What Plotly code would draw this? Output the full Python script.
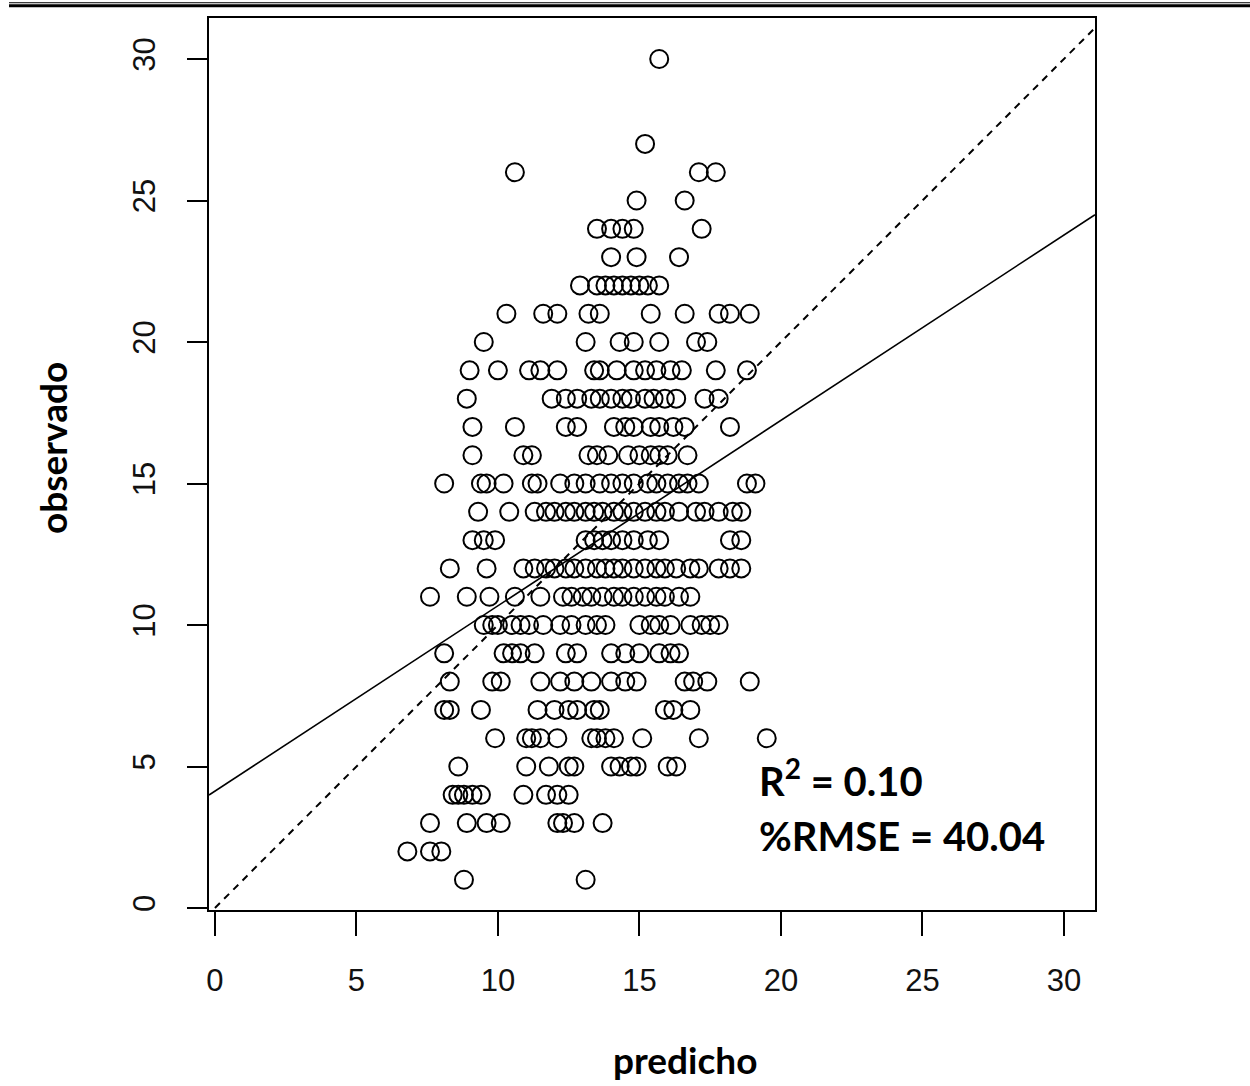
import plotly.graph_objects as go

# Predicted values grouped by the observed (integer) value
pred_by_obs = {
    30: [15.7],
    27: [15.2],
    26: [10.6, 17.1, 17.7],
    25: [14.9, 16.6],
    24: [13.5, 14.0, 14.4, 14.8, 17.2],
    23: [14.0, 14.9, 16.4],
    22: [12.9, 13.5, 13.8, 14.1, 14.4, 14.7, 15.0, 15.3, 15.7],
    21: [10.3, 11.6, 12.1, 13.2, 13.6, 15.4, 16.6, 17.8, 18.2, 18.9],
    20: [9.5, 13.1, 14.3, 14.8, 15.7, 17.0, 17.4],
    19: [9.0, 10.0, 11.1, 11.5, 12.1, 13.4, 13.6, 14.2, 14.8, 15.2, 15.6, 16.1, 16.5, 17.7, 18.8],
    18: [8.9, 11.9, 12.4, 12.8, 13.3, 13.6, 14.0, 14.4, 14.7, 15.2, 15.5, 15.9, 16.3, 17.3, 17.8],
    17: [9.1, 10.6, 12.4, 12.8, 14.1, 14.5, 14.8, 15.4, 15.7, 16.2, 16.6, 18.2],
    16: [9.1, 10.9, 11.2, 13.2, 13.5, 13.9, 14.6, 15.0, 15.4, 15.7, 16.0, 16.7],
    15: [8.1, 9.4, 9.6, 10.2, 11.2, 11.4, 12.2, 12.7, 13.1, 13.6, 14.0, 14.4, 14.8, 15.3,
         15.6, 16.0, 16.4, 16.7, 17.1, 18.8, 19.1],
    14: [9.3, 10.4, 11.3, 11.7, 12.0, 12.4, 12.7, 13.1, 13.4, 13.7, 14.1, 14.4, 14.8, 15.2,
         15.6, 15.9, 16.4, 17.0, 17.3, 17.8, 18.3, 18.6],
    13: [9.1, 9.5, 9.9, 13.1, 13.4, 13.7, 14.0, 14.4, 14.8, 15.3, 15.7, 18.2, 18.6],
    12: [8.3, 9.6, 10.9, 11.3, 11.7, 12.0, 12.4, 12.7, 13.1, 13.5, 13.8, 14.1, 14.4, 14.8,
         15.2, 15.6, 15.9, 16.3, 16.8, 17.1, 17.8, 18.2, 18.6],
    11: [7.6, 8.9, 9.7, 10.6, 11.5, 12.3, 12.6, 13.0, 13.3, 13.7, 14.1, 14.4, 14.8, 15.2,
         15.6, 15.9, 16.4, 16.8],
    10: [9.5, 9.8, 10.0, 10.5, 10.8, 11.1, 11.6, 12.2, 12.6, 13.1, 13.5, 13.8, 15.0, 15.4,
         15.7, 16.1, 16.8, 17.2, 17.5, 17.8],
    9: [8.1, 10.2, 10.5, 10.8, 11.3, 12.4, 12.8, 14.0, 14.5, 15.0, 15.7, 16.1, 16.4],
    8: [8.3, 9.8, 10.1, 11.5, 12.2, 12.7, 13.3, 14.0, 14.5, 14.9, 16.6, 16.9, 17.4, 18.9],
    7: [8.1, 8.3, 9.4, 11.4, 12.0, 12.5, 12.8, 13.4, 13.6, 15.9, 16.2, 16.8],
    6: [9.9, 11.0, 11.2, 11.5, 12.1, 13.3, 13.5, 13.8, 14.1, 15.1, 17.1, 19.5],
    5: [8.6, 11.0, 11.8, 12.5, 12.7, 14.0, 14.3, 14.7, 14.9, 16.0, 16.3],
    4: [8.4, 8.6, 8.8, 9.1, 9.4, 10.9, 11.7, 12.1, 12.5],
    3: [7.6, 8.9, 9.6, 10.1, 12.1, 12.3, 12.7, 13.7],
    2: [6.8, 7.6, 8.0],
    1: [8.8, 13.1],
}

predicho = [p for obs, preds in pred_by_obs.items() for p in preds]
observado = [obs for obs, preds in pred_by_obs.items() for _ in preds]

# Fitted regression line (observed ~ predicted)
fit_intercept = 4.13
fit_slope = 0.655

r2_text = "R<sup>2</sup> = 0.10"
rmse_text = "%RMSE = 40.04"

x_range = [-0.21, 31.1]
y_range = [-0.07, 31.45]
tick_vals = [0, 5, 10, 15, 20, 25, 30]

fig = go.Figure()

fig.add_trace(go.Scatter(
    x=predicho, y=observado, mode="markers",
    marker=dict(symbol="circle-open", size=18, color="black",
                line=dict(width=2, color="black")),
    showlegend=False, hoverinfo="x+y",
))

# 1:1 reference line
fig.add_trace(go.Scatter(
    x=[0, x_range[1]], y=[0, x_range[1]], mode="lines",
    line=dict(color="black", width=2, dash="7px,6px"),
    showlegend=False, hoverinfo="skip",
))

# Regression line across the full panel
fig.add_trace(go.Scatter(
    x=x_range, y=[fit_intercept + fit_slope * v for v in x_range], mode="lines",
    line=dict(color="black", width=1.6),
    showlegend=False, hoverinfo="skip",
))

tick_font = dict(family="Liberation Sans, Arial, sans-serif", size=31, color="#111")
title_font = dict(family="Lato, Carlito, sans-serif", size=37, color="black")
stat_font = dict(family="Lato, Carlito, sans-serif", size=40, color="black")

fig.update_xaxes(
    range=x_range, tickvals=tick_vals, ticks="outside", ticklen=24, tickwidth=2,
    tickcolor="black", showline=True, linewidth=2, linecolor="black", mirror=True,
    showgrid=False, zeroline=False, tickfont=tick_font, ticklabelstandoff=18,
)
fig.update_yaxes(
    range=y_range, tickvals=tick_vals, ticks="outside", ticklen=20, tickwidth=2,
    tickcolor="black", showline=True, linewidth=2, linecolor="black", mirror=True,
    showgrid=False, zeroline=False, tickfont=tick_font, tickangle=-90,
    ticklabelstandoff=20,
)

annotations = [
    dict(text="<b>observado</b>", xref="paper", yref="paper", x=-0.176, y=0.518,
         textangle=-90, showarrow=False, font=title_font,
         xanchor="center", yanchor="middle"),
    dict(text="<b>predicho</b>", xref="paper", yref="paper", x=0.537, y=-0.168,
         showarrow=False, font=title_font, xanchor="center", yanchor="middle"),
    dict(text="<b>" + r2_text + "</b>", xref="x", yref="y", x=19.15, y=4.6,
         showarrow=False, xanchor="left", yanchor="middle", font=stat_font),
    dict(text="<b>" + rmse_text + "</b>", xref="x", yref="y", x=19.15, y=2.55,
         showarrow=False, xanchor="left", yanchor="middle", font=stat_font),
]

# Double rule across the top of the page
shapes = [
    dict(type="line", xref="paper", yref="paper", x0=-0.2257, x1=1.18,
         y0=1.0171, y1=1.0171, line=dict(color="black", width=1)),
    dict(type="line", xref="paper", yref="paper", x0=-0.2257, x1=1.18,
         y0=1.0137, y1=1.0137, line=dict(color="black", width=3)),
]

fig.update_layout(
    width=1250, height=1086,
    margin=dict(l=209, r=155, t=18, b=176),
    paper_bgcolor="white", plot_bgcolor="white",
    annotations=annotations, shapes=shapes,
)

fig.write_html("out.html")
